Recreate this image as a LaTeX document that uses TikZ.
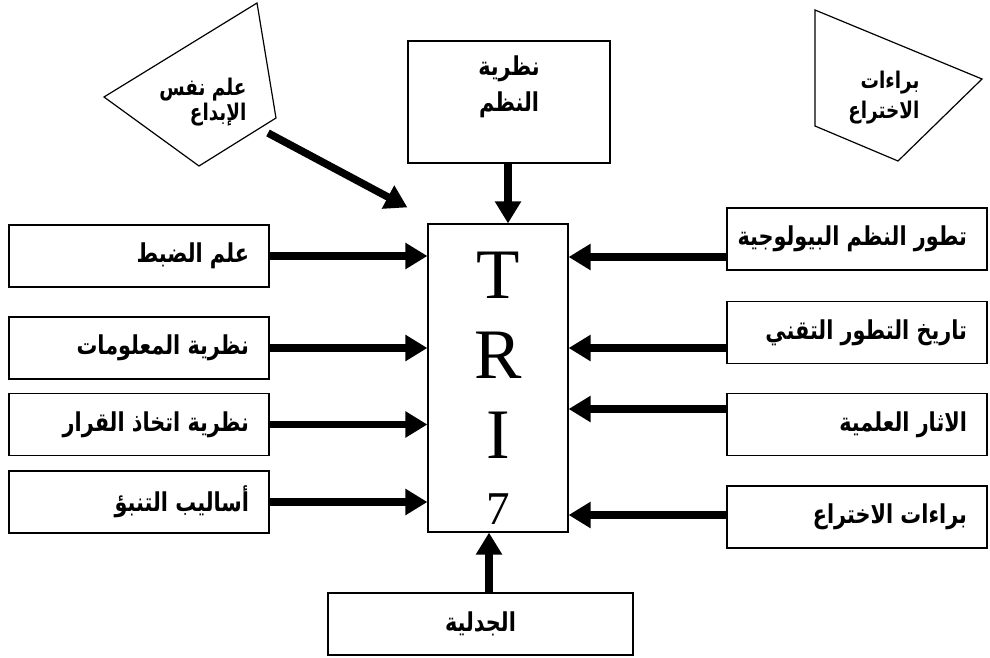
\documentclass[tikz,border=0pt]{standalone}
\usepackage{fontspec}
\usetikzlibrary{arrows.meta}
\setmainfont{Liberation Serif}
\newfontfamily\arabicfont[Script=Arabic,FakeStretch=0.8]{DejaVu Sans}
\TeXXeTstate=1
\newcommand{\artxt}[1]{\beginR #1\endR}
\newcommand{\sidetxt}[1]{\hbox to 220pt{\hss\artxt{#1}}}

\tikzset{
  box/.style={draw, line width=1.2pt, font=\arabicfont\bfseries\fontsize{26}{30}\selectfont},
  sidebox/.style={box, minimum width=260pt, inner xsep=20pt, inner ysep=2pt, minimum height=62pt},
  fat/.style={line width=7.5pt, -{Triangle[length=22pt,width=25pt]}},
}

\begin{document}
\begin{tikzpicture}[x=1pt,y=-1pt]
    \useasboundingbox (0,0) rectangle (990,658);
    \begin{scope} % TRIZ column
        \node[box, font=\rmfamily\fontsize{71}{80}\selectfont, align=center,
            minimum width=140pt, minimum height=308pt] (trz) at (498,378)
            {\raisebox{0pt}[67pt]{T}\\R\\I\\[-14pt]{\fontsize{47}{80}\selectfont 7}};
    \end{scope}
    \begin{scope} % Top and bottom boxes
        \node[box, align=center, font=\arabicfont\bfseries\fontsize{26}{36}\selectfont,
            minimum width=202pt, minimum height=122pt] (sys) at (509,102)
            {\artxt{نظرية}\\\artxt{النظم}\\~};
        \node[box, minimum width=305pt, minimum height=62pt] (dlc) at (480.5,624)
            {\artxt{الجدلية}};
        \draw[fat] (sys.south -| 508,0) -- (trz.north -| 508,0);
        \draw[fat] (dlc.north -| 489,0) -- (trz.south -| 489,0);
    \end{scope}
    \begin{scope} % Left boxes
        \foreach \y/\n/\t in {256/l1/{علم الضبط}, 348/l2/{نظرية المعلومات},
                424.5/l3/{نظرية اتخاذ القرار}, 502/l4/{أساليب التنبؤ}}
        {
            \node[sidebox] (\n) at (139,\y) {\sidetxt{\t}};
            \draw[fat] (\n.east) -- (\n.east -| trz.west);
        }
    \end{scope}
    \begin{scope} % Right boxes
        \foreach \y/\n/\t/\a in {239/r1/{تطور النظم البيولوجية}/257,
                332.5/r2/{تاريخ التطور التقني}/348,
                424.5/r3/{الاثار العلمية}/409, 517/r4/{براءات الاختراع}/515}
        {
            \node[sidebox] (\n) at (857,\y) {\sidetxt{\t}};
            \draw[fat] (\n.west |- 0,\a) -- (trz.east |- 0,\a);
        }
    \end{scope}
    \begin{scope}[line width=1.2pt] % Pentagons
        \draw (104,97) -- (257,3) -- (276,118) -- (199,166) -- cycle;
        \node[font=\arabicfont\bfseries\fontsize{23}{25}\selectfont, align=right,
            anchor=east, inner sep=0pt] (psy) at (247,102)
            {\artxt{علم نفس}\\\artxt{الإبداع}};
        \draw (815,10) -- (982,79) -- (898,161) -- (815,126) -- cycle;
        \node[font=\arabicfont\bfseries\fontsize{23}{30}\selectfont, align=right,
            anchor=east, inner sep=0pt] (brt) at (920,98)
            {\artxt{براءات}\\\artxt{الاختراع}};
        \coordinate (psyout) at (268,133);
        \draw[fat] (psyout) -- ([xshift=-20pt,yshift=16pt]trz.north west);
    \end{scope}
\end{tikzpicture}
\end{document}
